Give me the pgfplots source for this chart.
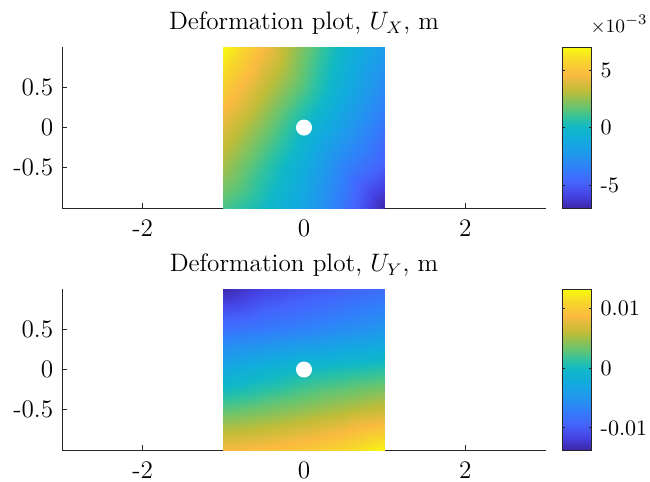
\documentclass[12pt,border=0pt]{standalone}
\usepackage{pgfplots}
\pgfplotsset{compat=1.18}
\definecolor{axgray}{rgb}{0.15,0.15,0.15}
\pgfplotsset{
  colormap={parula}{
    rgb(0pt)=(0.2422,0.1504,0.6603);
    rgb(80pt)=(0.2700,0.2600,0.8900);
    rgb(160pt)=(0.2700,0.3900,0.9900);
    rgb(250pt)=(0.1900,0.5000,0.9800);
    rgb(330pt)=(0.1300,0.5900,0.9300);
    rgb(420pt)=(0.0700,0.6700,0.8700);
    rgb(500pt)=(0.0600,0.7200,0.7800);
    rgb(560pt)=(0.1800,0.7600,0.6300);
    rgb(625pt)=(0.4000,0.7700,0.4400);
    rgb(730pt)=(0.7500,0.7400,0.2200);
    rgb(830pt)=(0.9800,0.7300,0.2500);
    rgb(920pt)=(0.9700,0.8400,0.1700);
    rgb(1000pt)=(0.9763,0.9831,0.0538)},
  myax/.style={
    scale only axis, width=230.5pt, height=76.7pt,
    xmin=-3, xmax=3, ymin=-1, ymax=1,
    xtick={-2,0,2}, xticklabels={-2,0,2},
    ytick={-0.5,0,0.5}, yticklabels={-0.5,0,0.5},
    axis x line*=bottom, axis y line*=left,
    tick align=inside, major tick length=2.4pt,
    axis line style={axgray, line width=0.4pt},
    tick style={axgray, line width=0.4pt},
    ticklabel style={text=black},
    xticklabel style={yshift=-1.4pt},
    clip=false,
    title style={anchor=base, yshift=2.4pt},
    colorbar,
    colorbar style={scale only axis, width=13.8pt, height=76.7pt,
      at={(parent axis.north east)}, anchor=north west, xshift=-0.5pt,
      axis line style={axgray}, tick style={axgray, line width=0.4pt},
      major tick length=1.2pt, scaled y ticks=false,
      yticklabel style={text=black, font=\fontsize{10.5}{12}\selectfont}},
  }
}
\pgfplotstableread{
x y c
-1 -1 1.3
-0.5 -1 0.1
0 -1 -1.6
0.5 -1 -4.0
1 -1 -7

-1 -0.5 2.7
-0.5 -0.5 0.9
0 -0.5 -1.0
0.5 -0.5 -3.4
1 -0.5 -5.0

-1 0 4.0
-0.5 0 2.1
0 0 0
0.5 0 -2.0
1 0 -4.0

-1 0.5 5.5
-0.5 0.5 3.4
0 0.5 1.4
0.5 0.5 -0.9
1 0.5 -3.0

-1 1 7
-0.5 1 4.6
0 1 2.0
0.5 1 -0.3
1 1 -2.0
}\ux
\pgfplotstableread{
x y c
-1 -1 0.0085
-0.5 -1 0.0090
0 -1 0.0098
0.5 -1 0.0110
1 -1 0.0130

-1 -0.5 0.0028
-0.5 -0.5 0.0036
0 -0.5 0.0045
0.5 -0.5 0.0055
1 -0.5 0.0065

-1 0 -0.0025
-0.5 0 -0.0012
0 0 0
0.5 0 0.0006
1 0 0.0012

-1 0.5 -0.0082
-0.5 0.5 -0.0075
0 0.5 -0.0068
0.5 0.5 -0.0058
1 0.5 -0.0048

-1 1 -0.0135
-0.5 1 -0.0115
0 1 -0.0105
0.5 1 -0.0095
1 1 -0.0085
}\uy
\begin{document}
\begin{tikzpicture}
\useasboundingbox (-29.5pt,-14.8pt) rectangle (280pt,214.3pt);
% top axis
\begin{axis}[myax, at={(0,115.2pt)},
  title={Deformation plot, $U_X$, m},
  point meta min=-7, point meta max=7,
  colorbar style={ytick={-5,0,5}, yticklabels={-5,0,5}}]
  \addplot[surf, shader=interp, mesh/cols=5, point meta=explicit] table[x=x, y=y, meta=c] {\ux};
  \addplot[only marks, mark=*, mark size=3.6pt, white, mark options={fill=white, draw=white}] coordinates {(0,0)};
  \node[anchor=base west, inner sep=0pt, font=\fontsize{9.5}{11}\selectfont] at (rel axis cs:1,1) [xshift=21pt, yshift=6.7pt] {$\times10^{-3}$};
\end{axis}
% bottom axis
\begin{axis}[myax, at={(0,0)},
  title={Deformation plot, $U_Y$, m},
  point meta min=-0.0137, point meta max=0.0132,
  colorbar style={ytick={-0.01,0,0.01}, yticklabels={-0.01,0,0.01}}]
  \addplot[surf, shader=interp, mesh/cols=5, point meta=explicit] table[x=x, y=y, meta=c] {\uy};
  \addplot[only marks, mark=*, mark size=3.6pt, white, mark options={fill=white, draw=white}] coordinates {(0,0)};
\end{axis}
\end{tikzpicture}
\end{document}
